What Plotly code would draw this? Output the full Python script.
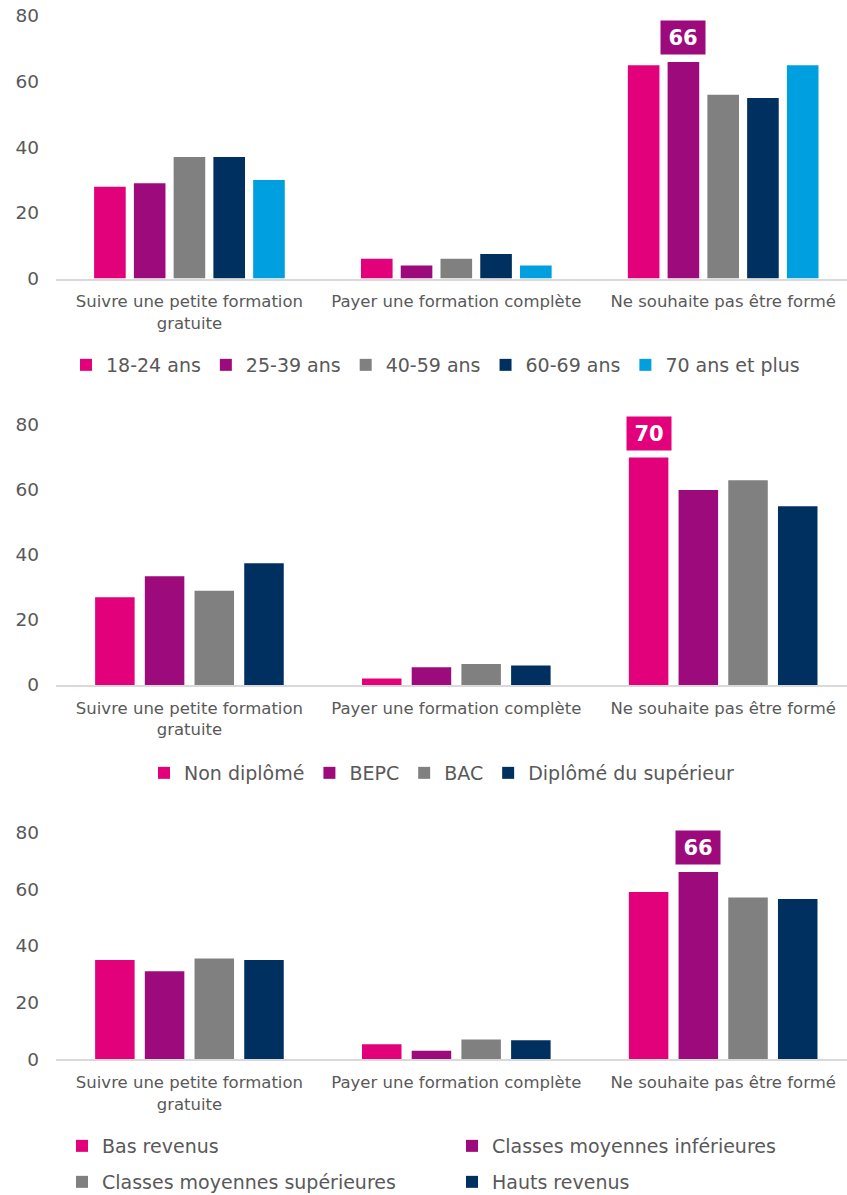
import plotly.graph_objects as go

W, H = 847, 1195

# ---- data -------------------------------------------------------------
categories = [
    "Suivre une petite formation<br>gratuite",
    "Payer une formation complète",
    "Ne souhaite pas être formé",
]
y_ticks = [0, 20, 40, 60, 80]

age_labels = ["18-24 ans", "25-39 ans", "40-59 ans", "60-69 ans", "70 ans et plus"]
age_18_24 = [28, 6, 65]
age_25_39 = [29, 4, 66]
age_40_59 = [37, 6, 56]
age_60_69 = [37, 7.5, 55]
age_70_plus = [30, 4, 65]

diploma_labels = ["Non diplômé", "BEPC", "BAC", "Diplômé du supérieur"]
non_diplome = [27, 2, 70]
bepc = [33.5, 5.5, 60]
bac = [29, 6.5, 63]
diplome_sup = [37.5, 6, 55]

income_labels = ["Bas revenus", "Classes moyennes inférieures",
                 "Classes moyennes supérieures", "Hauts revenus"]
bas_revenus = [35, 5.3, 59]
classes_moy_inf = [31, 3, 66]
classes_moy_sup = [35.5, 7, 57]
hauts_revenus = [35, 6.7, 56.5]

# ---- style ------------------------------------------------------------
PINK = "#E3007B"
PURPLE = "#9C0A7B"
GRAY = "#808080"
NAVY = "#00305F"
BLUE = "#009FE0"
TEXT = "#595959"
FONT = "DejaVu Sans"
BARGAP = 0.255
BARGROUPGAP = 0.205

panels = [
    dict(series=[age_18_24, age_25_39, age_40_59, age_60_69, age_70_plus],
         labels=age_labels, colors=[PINK, PURPLE, GRAY, NAVY, BLUE],
         legends=["legend"] * 5, top=16, bottom=278.5, highlight=(1, 2)),
    dict(series=[non_diplome, bepc, bac, diplome_sup],
         labels=diploma_labels, colors=[PINK, PURPLE, GRAY, NAVY],
         legends=["legend2"] * 4, top=425, bottom=685, highlight=(0, 2)),
    dict(series=[bas_revenus, classes_moy_inf, classes_moy_sup, hauts_revenus],
         labels=income_labels, colors=[PINK, PURPLE, GRAY, NAVY],
         legends=["legend3", "legend3", "legend4", "legend4"],
         top=832.3, bottom=1059.3, highlight=(1, 2)),
]

fig = go.Figure()
annotations = []
x_left = 56 / W

for p, panel in enumerate(panels, start=1):
    xa = "x" if p == 1 else f"x{p}"
    ya = "y" if p == 1 else f"y{p}"
    n = len(panel["series"])
    for i, (vals, name, col, leg) in enumerate(
            zip(panel["series"], panel["labels"], panel["colors"], panel["legends"])):
        fig.add_trace(go.Bar(
            x=list(range(len(categories))), y=vals, name=name,
            marker=dict(color=col, line=dict(width=0)),
            xaxis=xa, yaxis=ya, legend=leg, hoverinfo="skip",
        ))

    # value badge above the highlighted bar
    si, ci = panel["highlight"]
    value = panel["series"][si][ci]
    slot = (1 - BARGAP) / n
    x_pos = ci - (1 - BARGAP) / 2 + slot * (si + 0.5)
    annotations.append(dict(
        xref=xa, yref=ya, x=x_pos, y=value, yanchor="bottom", yshift=7,
        text=f"<b>{value:g}</b>", showarrow=False,
        font=dict(family=FONT, size=21, color="white"),
        bgcolor=panel["colors"][si], borderpad=4, width=36, height=25,
    ))

    dom = [1 - panel["bottom"] / H, 1 - panel["top"] / H]
    xkey = "xaxis" if p == 1 else f"xaxis{p}"
    ykey = "yaxis" if p == 1 else f"yaxis{p}"
    fig.update_layout({
        xkey: dict(domain=[x_left, 1], range=[-0.5, 2.464], anchor=ya,
                   automargin=False,
                   tickmode="array", tickvals=[0, 1, 2], ticktext=categories,
                   showline=True, linecolor="#D9D9D9", linewidth=2,
                   showgrid=False, zeroline=False, ticks="",
                   ticklabelstandoff=7,
                   tickfont=dict(family=FONT, size=16.5, color=TEXT)),
        ykey: dict(domain=dom, range=[0, 80], anchor=xa,
                   automargin=False,
                   tickmode="array", tickvals=y_ticks,
                   showline=False, showgrid=False, zeroline=False, ticks="",
                   ticklabelstandoff=16,
                   tickfont=dict(family=FONT, size=18.5, color=TEXT)),
    })

legend_font = dict(family=FONT, size=19, color=TEXT)
common = dict(orientation="h", xanchor="left", yanchor="middle",
              font=legend_font, bgcolor="rgba(0,0,0,0)", itemwidth=30,
              itemclick=False, itemdoubleclick=False, traceorder="normal")

fig.update_layout(
    width=W, height=H,
    margin=dict(l=0, r=0, t=0, b=0, autoexpand=False),
    paper_bgcolor="white", plot_bgcolor="white",
    barmode="group", bargap=BARGAP, bargroupgap=BARGROUPGAP,
    font=dict(family=FONT, color=TEXT),
    showlegend=True,
    annotations=annotations,
    legend=dict(common, x=66 / W, y=1 - 365 / H),
    legend2=dict(common, x=144 / W, y=1 - 773 / H),
    legend3=dict(common, x=62 / W, y=1 - 1146 / H, entrywidth=345),
    legend4=dict(common, x=62 / W, y=1 - 1182 / H, entrywidth=345),
)

fig.write_html("out.html")
